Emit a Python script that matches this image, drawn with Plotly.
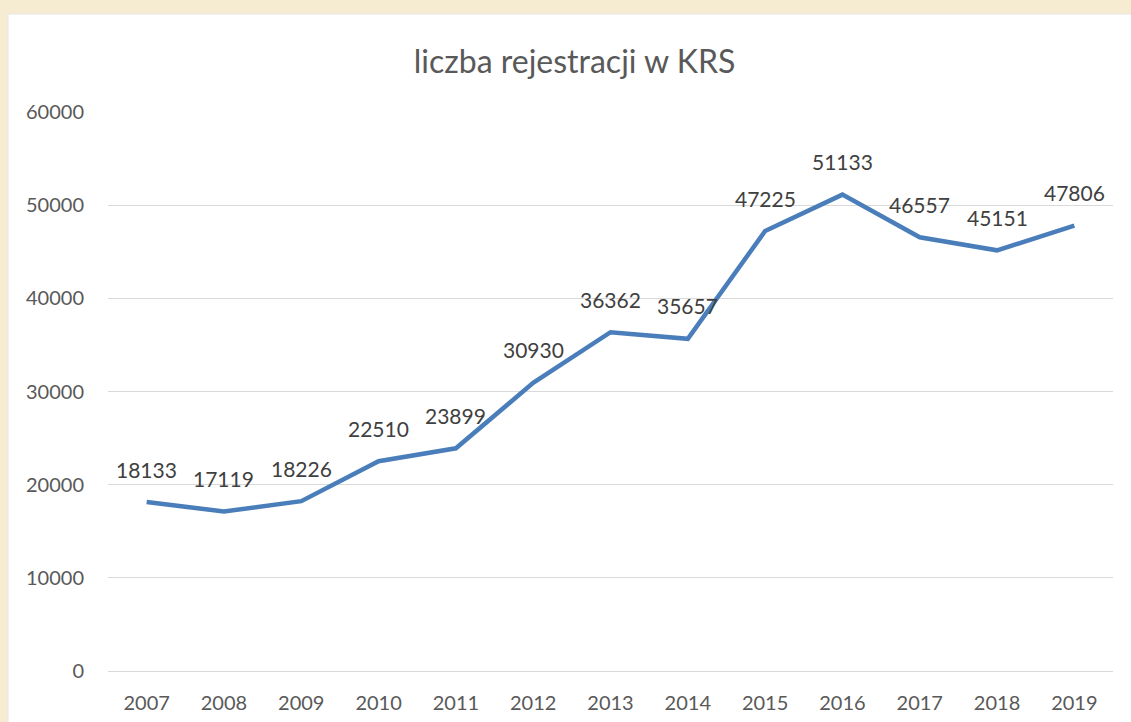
import plotly.graph_objects as go

years = ["2007", "2008", "2009", "2010", "2011", "2012", "2013",
         "2014", "2015", "2016", "2017", "2018", "2019"]
registrations = [18133, 17119, 18226, 22510, 23899, 30930, 36362,
                 35657, 47225, 51133, 46557, 45151, 47806]
y_ticks = [0, 10000, 20000, 30000, 40000, 50000, 60000]

W, H = 1131, 722
ml, mr, mt, mb = 108, 18, 112, 51
pw, ph = W - ml - mr, H - mt - mb

font_family = "Lato, Open Sans, sans-serif"
txt_color = "#595959"

fig = go.Figure()
fig.add_trace(go.Scatter(
    x=years, y=registrations, mode="lines",
    line=dict(color="#4A7EBB", width=4.5),
    hoverinfo="skip", showlegend=False,
))

annotations = [
    dict(x=i, y=v, xref="x", yref="y", text=str(v), showarrow=False, yshift=33,
         font=dict(family=font_family, size=21, color="#404040"))
    for i, v in enumerate(registrations)
]

# white chart area on beige background
shapes = [dict(
    type="rect", xref="paper", yref="paper", layer="below",
    x0=(8 - ml) / pw, x1=(W + 5 - ml) / pw,
    y0=(H - mb - (H + 5)) / ph, y1=(H - mb - 14) / ph,
    fillcolor="white", line=dict(color="#E6E6E6", width=1),
)]

fig.update_layout(
    width=W, height=H,
    margin=dict(l=ml, r=mr, t=mt, b=mb, autoexpand=False),
    paper_bgcolor="#F6ECD1",
    plot_bgcolor="rgba(0,0,0,0)",
    title=dict(text="liczba rejestracji w KRS", x=0.508, xanchor="center",
               y=1 - 62 / H, yanchor="middle",
               font=dict(family=font_family, size=32, color=txt_color)),
    xaxis=dict(type="category", categoryorder="array", categoryarray=years,
               range=[-0.5, len(years) - 0.5], autorange=False,
               showgrid=False, showline=False, ticks="", automargin=False,
               tickfont=dict(family=font_family, size=20, color=txt_color),
               ticklabelstandoff=18, fixedrange=True),
    yaxis=dict(range=[0, 60000], tickvals=y_ticks, tickformat="d",
               showgrid=True, automargin=False,
               gridcolor="#D9D9D9", gridwidth=1, zeroline=True,
               zerolinecolor="#D9D9D9", zerolinewidth=1, showline=False,
               tickfont=dict(family=font_family, size=20, color=txt_color),
               ticklabelstandoff=23, fixedrange=True),
    annotations=annotations,
    shapes=shapes,
)

fig.write_html(
    "out.html",
    config={"displayModeBar": False, "staticPlot": True},
    post_script="document.body.style.margin='0';"
                "document.body.style.background='#F6ECD1';"
                "document.body.style.overflow='hidden';",
)
